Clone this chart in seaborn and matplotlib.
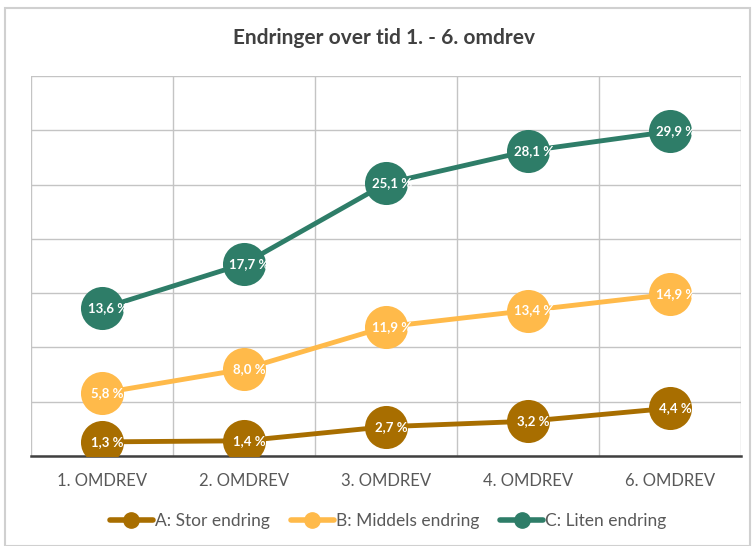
import pandas as pd
import numpy as np
import matplotlib
matplotlib.use('Agg')
import matplotlib.pyplot as plt
from matplotlib.lines import Line2D
from matplotlib.patches import Rectangle
import seaborn as sns

categories = ['1. OMDREV', '2. OMDREV', '3. OMDREV', '4. OMDREV', '6. OMDREV']
stor = [1.3, 1.4, 2.7, 3.2, 4.4]
middels = [5.8, 8.0, 11.9, 13.4, 14.9]
liten = [13.6, 17.7, 25.1, 28.1, 29.9]
series_names = ['A: Stor endring', 'B: Middels endring', 'C: Liten endring']
colors = ['#A86E00', '#FFBA4A', '#2E7D68']

df = pd.DataFrame({
    'pos': list(range(len(categories))) * 3,
    'verdi': stor + middels + liten,
    'serie': np.repeat(series_names, len(categories)),
})

sns.set_style('white')
plt.rcParams['font.family'] = ['Lato', 'DejaVu Sans']

fig = plt.figure(figsize=(7.53, 5.46), dpi=100)
ax = fig.add_axes([31/753, 1 - 456/546, 710/753, 380/546])

ax = sns.lineplot(data=df, x='pos', y='verdi', hue='serie', palette=colors,
                  hue_order=series_names, linewidth=3.5, marker='o', markersize=31,
                  markeredgewidth=0, legend=False, ax=ax, zorder=3)

for vals, c in zip([stor, middels, liten], colors):
    for i, v in enumerate(vals):
        ax.text(i + 0.04, v, f"{v:.1f}".replace('.', ',') + ' %', ha='center', va='center',
                color='white', fontsize=9.5, fontweight='bold', zorder=5)

ax.set_xlim(-0.5, len(categories) - 0.5)
ax.set_ylim(0, 35)
ax.set_yticks(np.arange(0, 36, 5))
ax.set_yticklabels([])
ax.set_xticks(range(len(categories)))
ax.set_xticklabels(categories, fontsize=12, color='#595959')
ax.set_xticks(np.arange(-0.5, len(categories), 1), minor=True)
ax.tick_params(axis='both', length=0, pad=12)
ax.grid(axis='y', color='#C4C4C4', linewidth=1)
ax.grid(axis='x', which='minor', color='#C4C4C4', linewidth=1)
ax.set_axisbelow(True)
for s in ['top', 'right', 'left']:
    ax.spines[s].set_visible(False)
ax.spines['bottom'].set_color('#404040')
ax.spines['bottom'].set_linewidth(1.8)
ax.set_xlabel('')
ax.set_ylabel('')

fig.text(384/753, 1 - 38/546, 'Endringer over tid 1. - 6. omdrev', ha='center', va='center',
         fontsize=15, fontweight='bold', color='#404040')

handles = [Line2D([0], [0], color=c, linewidth=4, marker='o', markersize=11) for c in colors]
fig.legend(handles, series_names, loc='center', bbox_to_anchor=(388/753, 1 - 521/546),
           ncol=3, frameon=False, fontsize=12.5, handlelength=2.5, columnspacing=1.2,
           handletextpad=0.1, labelcolor='#595959')

fig.patches.append(Rectangle((5/753, 0.0), 745/753, 1 - 8/546, transform=fig.transFigure,
                             fill=False, edgecolor='#D0D0D0', linewidth=1.5))

fig.savefig('out.png', dpi=100)
